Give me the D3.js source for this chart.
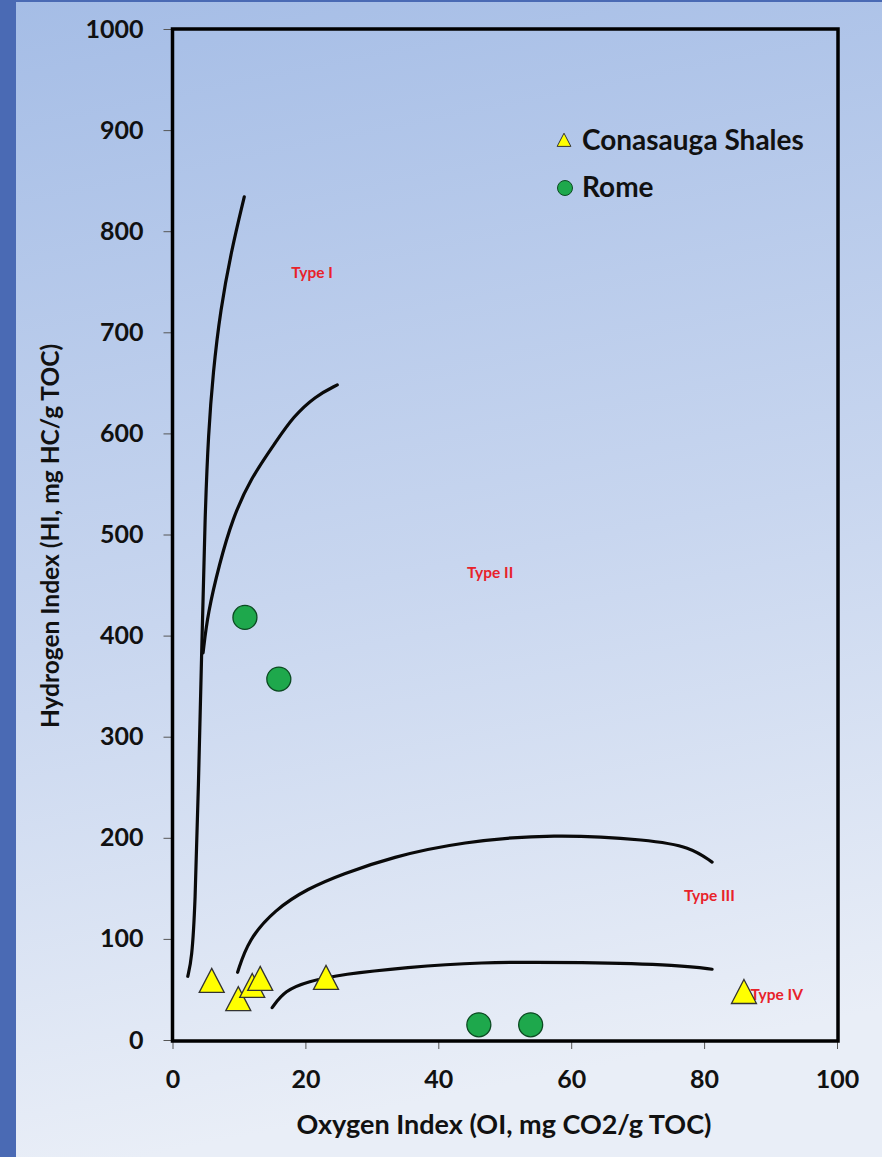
<!DOCTYPE html>
<html>
<head>
<meta charset="utf-8">
<script src="https://cdn.jsdelivr.net/npm/d3@7"></script>
<style>
  body { margin: 0; padding: 0; }
  svg { display: block; }
  text { font-family: Lato, "Open Sans", sans-serif; font-weight: bold; }
</style>
</head>
<body>
<div id="chart"></div>
<script>
// page size
var width = 882;
var height = 1157;

// plot box
var plotLeft = 172.5, plotRight = 837, plotTop = 29, plotBottom = 1040;

// data points
var conasaugaOI = [5.9, 9.9, 12.0, 13.2, 23.1, 86.0];
var conasaugaHI = [55, 37, 50, 57, 58, 44];
var romeOI = [10.9, 16.0, 46.1, 53.9];
var romeHI = [418, 357, 15, 15];

// kerogen type boundary curves
var typeIOI = [2.3, 2.9, 3.4, 3.9, 4.4, 4.9, 5.4, 6.1, 7.2, 8.9, 10.8];
var typeIHI = [63, 80, 130, 250, 386, 521, 600, 660, 722, 782, 834];
var typeIIOI = [4.6, 5.3, 7.1, 9.0, 11.7, 15.7, 18.1, 21.5, 24.8];
var typeIIHI = [383, 422, 472, 515, 555, 593, 616, 637, 648];
var typeIIIOI = [9.8, 11.4, 15.4, 20.4, 25.5, 33.0, 43.5, 57.3, 71.9, 77.9, 81.2];
var typeIIIHI = [67, 99, 129, 150, 164, 181, 196, 204, 198, 191, 176];
var typeIVOI = [15.0, 16.9, 20.4, 25.5, 35.4, 45.5, 61.8, 76.8, 81.2];
var typeIVHI = [32, 49, 58, 65, 72, 77, 77, 74, 70];

// region labels
var typeNames = ["Type I", "Type II", "Type III", "Type IV"];
var typeOI = [21.0, 47.8, 80.8, 87.0];
var typeHI = [759, 462, 143, 45];

var xTicks = [0, 20, 40, 60, 80, 100];
var yTicks = [0, 100, 200, 300, 400, 500, 600, 700, 800, 900, 1000];

var svg = d3
  .select("#chart")
  .append("svg")
  .attr("width", width)
  .attr("height", height);

// background gradient
var defs = svg.append("defs");
var grad = defs
  .append("linearGradient")
  .attr("id", "bg")
  .attr("x1", 0).attr("y1", 0)
  .attr("x2", 0.15).attr("y2", 1);
grad.append("stop").attr("offset", "0%").attr("stop-color", "#a5bde6");
grad.append("stop").attr("offset", "55%").attr("stop-color", "#c8d6ef");
grad.append("stop").attr("offset", "100%").attr("stop-color", "#e9eef7");

svg.append("rect")
  .attr("width", width).attr("height", height)
  .attr("fill", "#4a6ab4");
svg.append("rect")
  .attr("x", 16).attr("y", 2)
  .attr("width", width - 16).attr("height", height - 2)
  .attr("fill", "url(#bg)");

// scales
var xScale = d3.scaleLinear().domain([0, 100]).range([plotLeft, plotRight]);
var yScale = d3.scaleLinear().domain([0, 1000]).range([plotBottom, plotTop]);

// axes
var xAxis = d3.axisBottom(xScale).tickValues(xTicks).tickSize(9).tickPadding(21)
  .tickFormat(d3.format("d"));
var yAxis = d3.axisLeft(yScale).tickValues(yTicks).tickSize(9).tickPadding(20)
  .tickFormat(d3.format("d"));

var gx = svg.append("g")
  .attr("class", "xAxis")
  .attr("transform", "translate(0," + plotBottom + ")")
  .call(xAxis);
var gy = svg.append("g")
  .attr("class", "yAxis")
  .attr("transform", "translate(" + plotLeft + ",0)")
  .call(yAxis);

[gx, gy].forEach(function(g) {
  g.select(".domain").remove();
  g.selectAll(".tick line").attr("stroke", "#555").attr("stroke-width", 1);
  g.selectAll(".tick text")
    .attr("fill", "#111")
    .style("font-size", "25px")
    .style("font-family", "Lato, sans-serif")
    .style("font-weight", "bold");
});

// plot frame
svg.append("rect")
  .attr("x", plotLeft).attr("y", plotTop)
  .attr("width", plotRight - plotLeft + 1).attr("height", plotBottom - plotTop + 1)
  .attr("fill", "none")
  .attr("stroke", "#000")
  .attr("stroke-width", 3.5);

// boundary curves, smoothed
var line = d3.line()
  .x(function(d) { return xScale(d[0]); })
  .y(function(d) { return yScale(d[1]); })
  .curve(d3.curveBasis);

var curves = [
  [typeIOI, typeIHI],
  [typeIIOI, typeIIHI],
  [typeIIIOI, typeIIIHI],
  [typeIVOI, typeIVHI]
];
curves.forEach(function(c) {
  var pts = c[0].map(function(v, i) { return [v, c[1][i]]; });
  svg.append("path")
    .attr("d", line(pts))
    .attr("fill", "none")
    .attr("stroke", "#0a0a0a")
    .attr("stroke-width", 3.2)
    .attr("stroke-linecap", "round");
});

// type labels
svg.selectAll(".typeLabel")
  .data(typeNames)
  .enter()
  .append("text")
  .attr("class", "typeLabel")
  .attr("x", function(d, i) { return xScale(typeOI[i]); })
  .attr("y", function(d, i) { return yScale(typeHI[i]); })
  .attr("text-anchor", function(d, i) { return i === 3 ? "start" : "middle"; })
  .attr("dy", "0.35em")
  .attr("fill", "#e8222a")
  .style("font-size", "15.5px")
  .text(function(d) { return d; });

// triangle marker (base 25, height 24, centred on centroid)
function tri(s) {
  var h = 24 * s, b = 25 * s;
  return "M0," + (-2 * h / 3) + "L" + (b / 2) + "," + (h / 3) + "L" + (-b / 2) + "," + (h / 3) + "Z";
}

// Rome circles
svg.selectAll(".rome")
  .data(romeOI)
  .enter()
  .append("circle")
  .attr("class", "rome")
  .attr("cx", function(d) { return xScale(d); })
  .attr("cy", function(d, i) { return yScale(romeHI[i]); })
  .attr("r", 12)
  .attr("fill", "#1ea84c")
  .attr("stroke", "#0c4a22")
  .attr("stroke-width", 1.3);

// Conasauga triangles
svg.selectAll(".cona")
  .data(conasaugaOI)
  .enter()
  .append("path")
  .attr("class", "cona")
  .attr("d", tri(1))
  .attr("transform", function(d, i) {
    return "translate(" + xScale(d) + "," + yScale(conasaugaHI[i]) + ")";
  })
  .attr("fill", "#ffff00")
  .attr("stroke", "#333")
  .attr("stroke-width", 1.3);

// legend
var legend = svg.append("g").attr("transform", "translate(564,0)");
legend.append("path")
  .attr("d", tri(0.55))
  .attr("transform", "translate(0,142)")
  .attr("fill", "#ffff00")
  .attr("stroke", "#333")
  .attr("stroke-width", 1);
legend.append("circle")
  .attr("cx", 1).attr("cy", 188).attr("r", 7.5)
  .attr("fill", "#1ea84c")
  .attr("stroke", "#0c4a22")
  .attr("stroke-width", 1);
legend.append("text")
  .attr("x", 18).attr("y", 140).attr("dy", "0.35em")
  .attr("fill", "#111")
  .style("font-size", "28px")
  .text("Conasauga Shales");
legend.append("text")
  .attr("x", 18).attr("y", 187).attr("dy", "0.35em")
  .attr("fill", "#111")
  .style("font-size", "28px")
  .text("Rome");

// axis titles
svg.append("text")
  .attr("x", 504).attr("y", 1125).attr("dy", "0.35em")
  .attr("text-anchor", "middle")
  .attr("fill", "#111")
  .style("font-size", "27px")
  .text("Oxygen Index (OI, mg CO2/g TOC)");

svg.append("text")
  .attr("transform", "translate(50,536)rotate(-90)")
  .attr("dy", "0.35em")
  .attr("text-anchor", "middle")
  .attr("fill", "#111")
  .style("font-size", "24.5px")
  .text("Hydrogen Index (HI, mg HC/g TOC)");
</script>
</body>
</html>
